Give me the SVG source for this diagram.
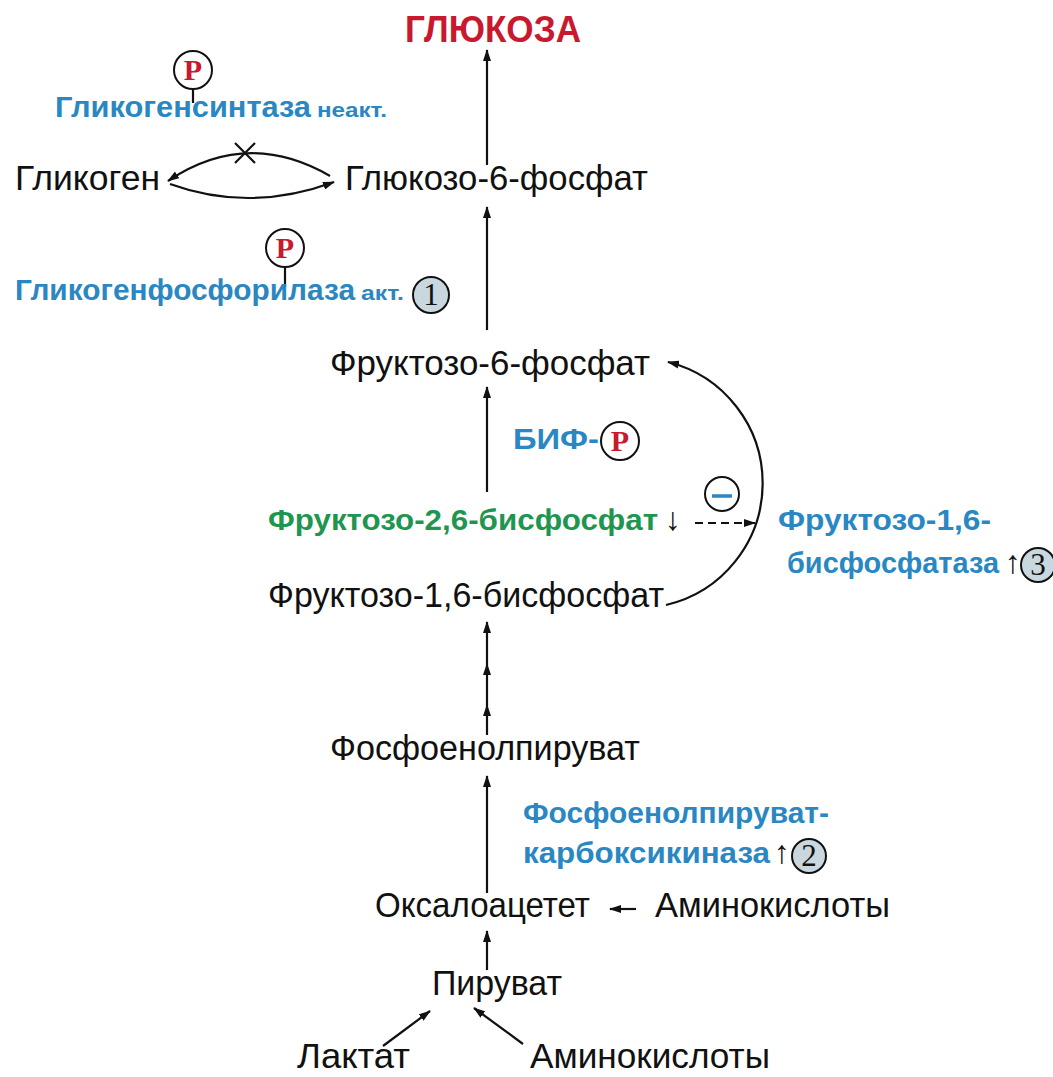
<svg xmlns="http://www.w3.org/2000/svg" width="1053" height="1077" viewBox="0 0 1053 1077">
  <style>
    text { font-family: "Liberation Sans", Arial, sans-serif; }
    .met { font-size: 35px; fill: #111; }
    .enz { font-size: 30px; font-weight: bold; fill: #2a87c2; }
    .small { font-size: 21px; font-weight: bold; fill: #2a87c2; }
    .green { font-size: 30px; font-weight: bold; fill: #1f9650; }
    .red { font-size: 37px; font-weight: bold; fill: #c8192e; }
    .arw { font-size: 32px; font-weight: normal; fill: #111; }
    .p { font-family: "Liberation Serif", serif; font-size: 30px; font-weight: bold; fill: #c8192e; text-anchor: middle; }
    .num { font-family: "Liberation Serif", serif; font-size: 31px; fill: #111; text-anchor: middle; }
    .ln { stroke: #111; stroke-width: 2.2; fill: none; }
    .circ { fill: #fff; stroke: #111; stroke-width: 2; }
    .badge { fill: #c9d7de; stroke: #111; stroke-width: 2; }
  </style>
  <defs>
    <marker id="arr" viewBox="0 0 12 8" refX="11" refY="4" markerWidth="12" markerHeight="8" markerUnits="userSpaceOnUse" orient="auto">
      <path d="M0,0 L12,4 L0,8 z" fill="#111"/>
    </marker>
  </defs>

  <!-- reaction arrows -->
  <g id="connectors">
    <line class="ln" x1="487" y1="165" x2="487" y2="50" marker-end="url(#arr)"/>
    <line class="ln" x1="487" y1="330" x2="487" y2="207" marker-end="url(#arr)"/>
    <line class="ln" x1="487" y1="492" x2="487" y2="387" marker-end="url(#arr)"/>
    <line class="ln" x1="487" y1="735" x2="487" y2="705" marker-end="url(#arr)"/>
    <line class="ln" x1="487" y1="705" x2="487" y2="664" marker-end="url(#arr)"/>
    <line class="ln" x1="487" y1="664" x2="487" y2="622" marker-end="url(#arr)"/>
    <line class="ln" x1="487" y1="893" x2="487" y2="776" marker-end="url(#arr)"/>
    <line class="ln" x1="487" y1="970" x2="487" y2="931" marker-end="url(#arr)"/>
    <line class="ln" x1="383" y1="1046" x2="430" y2="1011" marker-end="url(#arr)"/>
    <line class="ln" x1="523" y1="1044" x2="474" y2="1008" marker-end="url(#arr)"/>
    <line class="ln" x1="636" y1="909" x2="610" y2="909" stroke-width="1.6" marker-end="url(#arr)"/>
    <!-- glycogen cycle, synthesis branch blocked -->
    <path class="ln" d="M330,176 Q247,128 168,181" marker-end="url(#arr)"/>
    <path class="ln" d="M170,184 Q250,213 334,182" marker-end="url(#arr)"/>
    <path class="ln" d="M235,143 L255,163 M255,143 L235,163" stroke-width="2.6"/>
    <!-- fructose-1,6-bisphosphate back to fructose-6-phosphate -->
    <path class="ln" d="M666,605 A125,125 0 0 0 668,362" marker-end="url(#arr)"/>
    <!-- inhibition (dashed) -->
    <line class="ln" x1="695" y1="523" x2="755" y2="523" stroke-dasharray="8,5" marker-end="url(#arr)"/>
    <!-- phosphate stems -->
    <line class="ln" x1="193" y1="89" x2="193" y2="103"/>
    <line class="ln" x1="285" y1="267" x2="285" y2="287"/>
  </g>

  <g id="glucose"><text class="red" x="405" y="42" textLength="176" lengthAdjust="spacingAndGlyphs">ГЛЮКОЗА</text></g>

  <g id="glycogen-synthase">
    <text class="enz" x="55" y="117"><tspan textLength="256" lengthAdjust="spacingAndGlyphs">Гликогенсинтаза</tspan><tspan class="small" x="317" textLength="70" lengthAdjust="spacingAndGlyphs">неакт.</tspan></text>
    <circle class="circ" cx="193" cy="70" r="19"/>
    <text class="p" x="193" y="80">P</text>
  </g>

  <g id="glycogen"><text class="met" x="15" y="190" textLength="145" lengthAdjust="spacingAndGlyphs">Гликоген</text></g>
  <g id="g6p"><text class="met" x="345" y="190" textLength="303" lengthAdjust="spacingAndGlyphs">Глюкозо-6-фосфат</text></g>

  <g id="glycogen-phosphorylase">
    <text class="enz" x="15" y="300"><tspan textLength="340" lengthAdjust="spacingAndGlyphs">Гликогенфосфорилаза</tspan><tspan class="small" x="361" textLength="43" lengthAdjust="spacingAndGlyphs">акт.</tspan></text>
    <circle class="circ" cx="285" cy="248" r="19"/>
    <text class="p" x="285" y="258">P</text>
    <circle class="badge" cx="431" cy="295" r="18"/>
    <text class="num" x="431" y="305">1</text>
  </g>

  <g id="f6p"><text class="met" x="330" y="375" textLength="320" lengthAdjust="spacingAndGlyphs">Фруктозо-6-фосфат</text></g>

  <g id="bif">
    <text class="enz" x="513" y="449" textLength="86" lengthAdjust="spacingAndGlyphs">БИФ-</text>
    <circle class="circ" cx="620" cy="441" r="19"/>
    <text class="p" x="620" y="451">P</text>
  </g>

  <g id="f26bp">
    <text class="green" x="268" y="530"><tspan textLength="390" lengthAdjust="spacingAndGlyphs">Фруктозо-2,6-бисфосфат</tspan><tspan class="arw" x="665">↓</tspan></text>
  </g>

  <g id="inhibition">
    <circle class="circ" cx="722" cy="494" r="17"/>
    <line x1="712" y1="496" x2="732" y2="496" stroke="#2a87c2" stroke-width="3.5"/>
  </g>

  <g id="fbpase">
    <text class="enz" x="778" y="530" textLength="213" lengthAdjust="spacingAndGlyphs">Фруктозо-1,6-</text>
    <text class="enz" x="787" y="573" font-size="28"><tspan textLength="212" lengthAdjust="spacingAndGlyphs">бисфосфатаза</tspan><tspan class="arw" x="1005">↑</tspan></text>
    <circle class="badge" cx="1038" cy="565" r="17"/>
    <text class="num" x="1038" y="575">3</text>
  </g>

  <g id="f16bp"><text class="met" x="268" y="607" textLength="396" lengthAdjust="spacingAndGlyphs">Фруктозо-1,6-бисфосфат</text></g>

  <g id="pep"><text class="met" x="330" y="760" textLength="310" lengthAdjust="spacingAndGlyphs">Фосфоенолпируват</text></g>

  <g id="pepck">
    <text class="enz" x="523" y="823" textLength="306" lengthAdjust="spacingAndGlyphs">Фосфоенолпируват-</text>
    <text class="enz" x="523" y="863"><tspan textLength="247" lengthAdjust="spacingAndGlyphs">карбоксикиназа</tspan><tspan class="arw" x="774">↑</tspan></text>
    <circle class="badge" cx="809" cy="856" r="17"/>
    <text class="num" x="809" y="866">2</text>
  </g>

  <g id="oxaloacetate"><text class="met" x="375" y="917" textLength="215" lengthAdjust="spacingAndGlyphs">Оксалоацетет</text></g>
  <g id="amino-acids-1"><text class="met" x="655" y="917" textLength="235" lengthAdjust="spacingAndGlyphs">Аминокислоты</text></g>
  <g id="pyruvate"><text class="met" x="432" y="995" textLength="130" lengthAdjust="spacingAndGlyphs">Пируват</text></g>
  <g id="lactate"><text class="met" x="297" y="1068" textLength="113" lengthAdjust="spacingAndGlyphs">Лактат</text></g>
  <g id="amino-acids-2"><text class="met" x="530" y="1068" textLength="240" lengthAdjust="spacingAndGlyphs">Аминокислоты</text></g>
</svg>
